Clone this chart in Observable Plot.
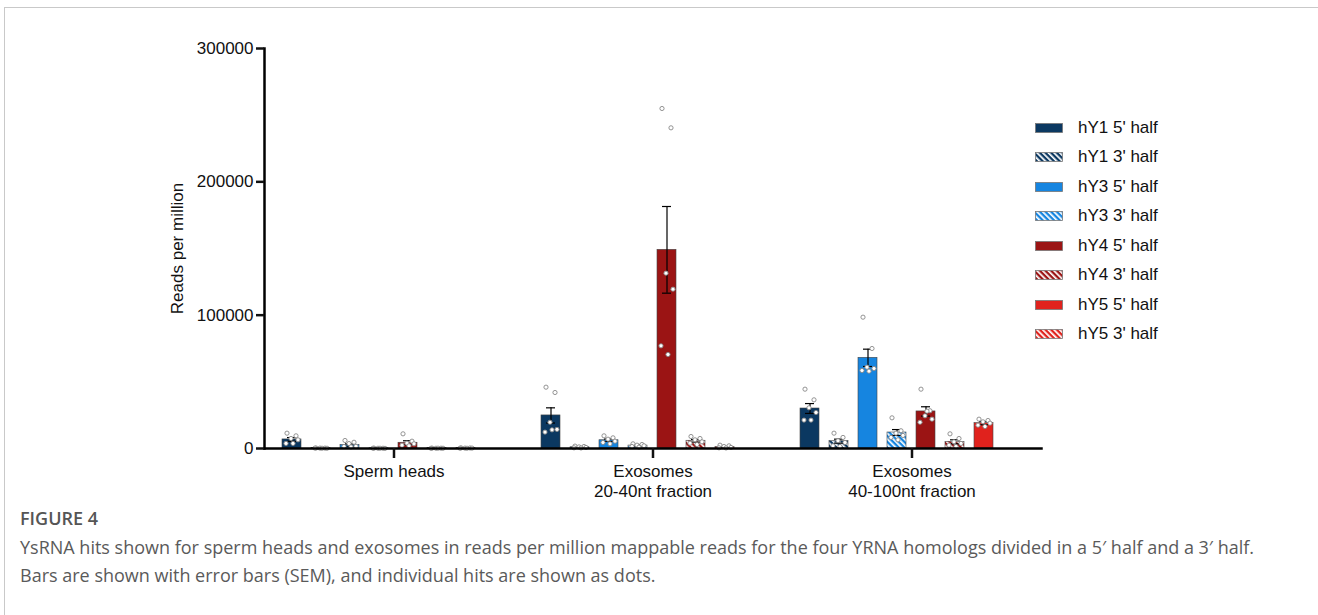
<!DOCTYPE html>
<html>
<head>
<meta charset="utf-8">
<script src="https://cdn.jsdelivr.net/npm/d3@7"></script>
<script src="https://cdn.jsdelivr.net/npm/@observablehq/plot@0.6"></script>
<style>
  html, body { margin: 0; padding: 0; background: #fff; }
  body { width: 1318px; height: 615px; position: relative; overflow: hidden; font-family: "Liberation Sans", Arial, sans-serif; }
  #panel { position: absolute; left: 4px; top: 7px; width: 1400px; height: 700px; border-left: 1px solid #c9c9c9; border-top: 1px solid #c9c9c9; }
  #chart { position: absolute; left: 0; top: 0; }
  #legend { position: absolute; left: 1035px; top: 112.75px; }
  .row { display: flex; align-items: center; height: 29.5px; font-size: 17px; color: #111; white-space: nowrap; }
  .row svg { margin-right: 15px; }
  #caption { position: absolute; left: 20px; top: 503px; font-family: "Open Sans", sans-serif; color: #5a5a5a; }
  #caption .fig { font-weight: 600; font-size: 18px; line-height: 30px; color: #555; }
  #caption .txt { font-size: 18px; line-height: 28px; }
</style>
</head>
<body>
<svg width="0" height="0" style="position:absolute">
  <defs id="patterns"></defs>
</svg>
<div id="panel"></div>
<div id="chart"></div>
<div id="legend"></div>
<div id="caption">
  <div class="fig">FIGURE 4</div>
  <div class="txt">YsRNA hits shown for sperm heads and exosomes in reads per million mappable reads for the four YRNA homologs divided in a 5′ half and a 3′ half.<br>Bars are shown with error bars (SEM), and individual hits are shown as dots.</div>
</div>
<script>
// Sample groups (x-axis categories) and YRNA fragments (bars within each group)
const groups = ["Sperm heads", "Exosomes\n20-40nt fraction", "Exosomes\n40-100nt fraction"];
const series = ["hY1 5' half", "hY1 3' half", "hY3 5' half", "hY3 3' half",
                "hY4 5' half", "hY4 3' half", "hY5 5' half", "hY5 3' half"];
const seriesColor = ["#0b3861", "#0b3861", "#1685e0", "#1685e0", "#9b1414", "#9b1414", "#e0221d", "#e0221d"];
const seriesHatched = [false, true, false, true, false, true, false, true];
const yTicks = [0, 100000, 200000, 300000];

// Mean reads per million, one value per fragment (hY5 3' half has no hits)
const meanSpermHeads = [6800, 300, 2600, 200, 4300, 250, 300, 0];
const meanExo20to40  = [24800, 900, 6200, 2200, 149000, 5800, 1000, 0];
const meanExo40to100 = [30000, 5500, 68000, 12000, 27800, 5000, 19000, 0];

// Standard error of the mean
const semSpermHeads = [1400, 60, 900, 60, 1500, 60, 100, 0];
const semExo20to40  = [5700, 250, 900, 450, 32500, 1000, 350, 0];
const semExo40to100 = [3700, 1500, 6500, 2200, 3500, 1500, 1200, 0];

// Individual sample hits
const hitsSpermHeads = [
  [11500, 9500, 7500, 6500, 3800, 3800],
  [400, 300, 300, 200, 300, 200],
  [6000, 4700, 3700, 1700, 1500, 1200],
  [300, 200, 200, 100, 200, 200],
  [11000, 5500, 4000, 3500, 2500, 2000],
  [300, 250, 200, 200, 150, 250],
  [500, 400, 300, 300, 200, 200],
  []
];
const hitsExo20to40 = [
  [46000, 42000, 19700, 14300, 12300, 14000],
  [1800, 1500, 1200, 800, 500, 400],
  [9500, 8000, 7000, 5500, 4500, 3500],
  [3500, 3000, 2500, 2000, 1500, 1000],
  [255000, 240500, 131500, 119500, 77000, 70500],
  [9000, 7500, 6500, 5000, 4000, 3000],
  [2500, 2000, 1500, 800, 500, 400],
  []
];
const hitsExo40to100 = [
  [44500, 36500, 30500, 27000, 21300, 21300],
  [11500, 8300, 5800, 4500, 2000, 1500],
  [98500, 75000, 61000, 60000, 58500, 58000],
  [23000, 13300, 11500, 9800, 8300, 6500],
  [44500, 28300, 24500, 22000, 19700, 28000],
  [11000, 7500, 5000, 3800, 2500, 1500],
  [22000, 21000, 20000, 19000, 17500, 16500],
  []
];

const means = [meanSpermHeads, meanExo20to40, meanExo40to100];
const sems = [semSpermHeads, semExo20to40, semExo40to100];
const hits = [hitsSpermHeads, hitsExo20to40, hitsExo40to100];

// horizontal spread of the sample dots inside a bar, by replicate index
const jitter = [-5, 4, -1, 6, -6, 1];

// Hatch patterns: white diagonal stripes over the fragment colour
const patternId = (i) => `hatch-${i}`;
const defs = d3.select("#patterns");
series.forEach((s, i) => {
  if (!seriesHatched[i]) return;
  const p = defs.append("pattern")
    .attr("id", patternId(i))
    .attr("patternUnits", "userSpaceOnUse")
    .attr("width", 4).attr("height", 4)
    .attr("patternTransform", "rotate(-45)");
  p.append("rect").attr("width", 4).attr("height", 4).attr("fill", seriesColor[i]);
  p.append("rect").attr("width", 1.7).attr("height", 4).attr("fill", "#fff");
});
const fills = series.map((s, i) => seriesHatched[i] ? `url(#${patternId(i)})` : seriesColor[i]);

const bars = groups.flatMap((g, gi) => series.map((s, si) => ({
  group: g, series: s, mean: means[gi][si], sem: sems[gi][si]
}))).filter(d => d.mean > 0);

const points = groups.flatMap((g, gi) => series.flatMap((s, si) =>
  hits[gi][si].map((v, k) => ({group: g, series: s, value: v, rep: k}))));

const chart = Plot.plot({
  width: 1318,
  height: 505,
  marginLeft: 267,
  marginRight: 280,
  marginTop: 48,
  marginBottom: 57,
  style: {fontFamily: "'Liberation Sans', Arial, sans-serif", fontSize: "17px", color: "#111", background: "transparent"},
  fx: {domain: groups, range: [263, 1042], padding: 0, label: null},
  x: {domain: series, axis: null, paddingInner: 1 / 3, paddingOuter: 0.5},
  y: {domain: [0, 300000], label: null},
  color: {domain: series, range: fills},
  marks: [
    Plot.barY(bars, {fx: "group", x: "series", y: "mean", fill: "series", stroke: "#444", strokeWidth: 0.6}),
    Plot.ruleX(bars, {fx: "group", x: "series", y1: d => Math.max(0, d.mean - d.sem), y2: d => d.mean + d.sem, stroke: "#000", strokeWidth: 1.2}),
    Plot.tickY(bars, {fx: "group", x: "series", y: d => d.mean + d.sem, insetLeft: 5, insetRight: 5, stroke: "#000", strokeWidth: 1.2}),
    Plot.tickY(bars, {fx: "group", x: "series", y: d => Math.max(0, d.mean - d.sem), insetLeft: 5, insetRight: 5, stroke: "#000", strokeWidth: 1.2}),
    ...jitter.map((dx, k) => Plot.dot(points.filter(p => p.rep === k), {
      fx: "group", x: "series", y: "value", dx, r: 2.1, fill: "#fff", stroke: "#888", strokeWidth: 0.9
    })),
    Plot.frame({anchor: "left", facet: "super", stroke: "#000", strokeWidth: 2.5}),
    Plot.frame({anchor: "bottom", facet: "super", stroke: "#000", strokeWidth: 2.5}),
    Plot.axisY({ticks: yTicks, tickFormat: d3.format("d"), tickSize: 8, tickPadding: 3, strokeWidth: 2.5,
                label: "Reads per million", labelAnchor: "center", labelArrow: "none", labelOffset: 94}),
    Plot.axisFx({anchor: "bottom", tickSize: 10, tickPadding: 4, strokeWidth: 2.5, label: null, lineHeight: 1.18})
  ]
});
document.getElementById("chart").append(chart);

// Legend
const legend = d3.select("#legend");
series.forEach((s, i) => {
  const row = legend.append("div").attr("class", "row");
  const sw = row.append("svg").attr("width", 28).attr("height", 10);
  sw.append("rect").attr("x", 0.5).attr("y", 0.5).attr("width", 27).attr("height", 9)
    .attr("fill", fills[i]).attr("stroke", "#777").attr("stroke-width", 0.8);
  row.append("span").text(s);
});
</script>
</body>
</html>
